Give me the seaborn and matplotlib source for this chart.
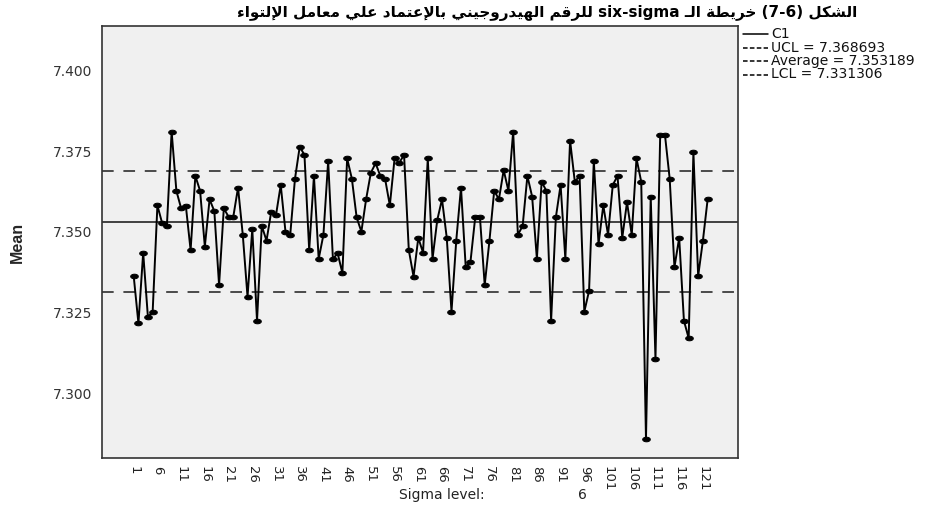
import numpy as np
import pandas as pd
import matplotlib
matplotlib.use("Agg")
import matplotlib.pyplot as plt
from matplotlib.lines import Line2D
import seaborn as sns

# ---- data -------------------------------------------------------------
sample_means = [
    7.3364, 7.3218, 7.3436, 7.3237, 7.3254, 7.3582, 7.3527, 7.3519, 7.3810, 7.3627,
    7.3573, 7.3580, 7.3444, 7.3673, 7.3627, 7.3455, 7.3601, 7.3564, 7.3336, 7.3573,
    7.3547, 7.3547, 7.3637, 7.3491, 7.3300, 7.3509, 7.3226, 7.3519, 7.3473, 7.3563,
    7.3552, 7.3645, 7.3501, 7.3491, 7.3664, 7.3763, 7.3738, 7.3444, 7.3673, 7.3417,
    7.3491, 7.3719, 7.3417, 7.3434, 7.3373, 7.3727, 7.3664, 7.3545, 7.3501, 7.3601,
    7.3683, 7.3712, 7.3673, 7.3664, 7.3582, 7.3727, 7.3714, 7.3738, 7.3444, 7.3362,
    7.3482, 7.3436, 7.3727, 7.3417, 7.3537, 7.3601, 7.3482, 7.3254, 7.3473, 7.3637,
    7.3391, 7.3408, 7.3545, 7.3545, 7.3336, 7.3473, 7.3627, 7.3601, 7.3691, 7.3627,
    7.3810, 7.3491, 7.3519, 7.3673, 7.3609, 7.3417, 7.3655, 7.3627, 7.3226, 7.3545,
    7.3645, 7.3417, 7.3782, 7.3655, 7.3673, 7.3254, 7.3318, 7.3719, 7.3463, 7.3582,
    7.3491, 7.3645, 7.3673, 7.3482, 7.3592, 7.3491, 7.3727, 7.3655, 7.2861, 7.3609,
    7.3108, 7.3800, 7.3800, 7.3664, 7.3391, 7.3482, 7.3226, 7.3172, 7.3746, 7.3364,
    7.3473, 7.3601,
]
sample_ids = list(range(1, len(sample_means) + 1))

ucl = 7.368693
center = 7.353189
lcl = 7.331306
sigma_level = 6

x_tick_values = list(range(1, 122, 5))
y_tick_values = [7.300, 7.325, 7.350, 7.375, 7.400]

title_words = ["الشكل", "(7-6)", "خريطة", "الـ", "six-sigma", "للرقم",
               "الهيدروجيني", "بالإعتماد", "علي", "معامل", "الإلتواء"]

# ---- minimal Arabic shaping (matplotlib has no bidi / joining) --------
# char: (isolated, final, initial, medial); None where the form does not exist
FORMS = {
    "\u0621": ("\uFE80", None, None, None),
    "\u0622": ("\uFE81", "\uFE82", None, None),
    "\u0623": ("\uFE83", "\uFE84", None, None),
    "\u0625": ("\uFE87", "\uFE88", None, None),
    "\u0627": ("\uFE8D", "\uFE8E", None, None),
    "\u0628": ("\uFE8F", "\uFE90", "\uFE91", "\uFE92"),
    "\u0629": ("\uFE93", "\uFE94", None, None),
    "\u062A": ("\uFE95", "\uFE96", "\uFE97", "\uFE98"),
    "\u062C": ("\uFE9D", "\uFE9E", "\uFE9F", "\uFEA0"),
    "\u062E": ("\uFEA5", "\uFEA6", "\uFEA7", "\uFEA8"),
    "\u062F": ("\uFEA9", "\uFEAA", None, None),
    "\u0631": ("\uFEAD", "\uFEAE", None, None),
    "\u0634": ("\uFEB5", "\uFEB6", "\uFEB7", "\uFEB8"),
    "\u0637": ("\uFEC1", "\uFEC2", "\uFEC3", "\uFEC4"),
    "\u0639": ("\uFEC9", "\uFECA", "\uFECB", "\uFECC"),
    "\u0642": ("\uFED5", "\uFED6", "\uFED7", "\uFED8"),
    "\u0643": ("\uFED9", "\uFEDA", "\uFEDB", "\uFEDC"),
    "\u0644": ("\uFEDD", "\uFEDE", "\uFEDF", "\uFEE0"),
    "\u0645": ("\uFEE1", "\uFEE2", "\uFEE3", "\uFEE4"),
    "\u0646": ("\uFEE5", "\uFEE6", "\uFEE7", "\uFEE8"),
    "\u0647": ("\uFEE9", "\uFEEA", "\uFEEB", "\uFEEC"),
    "\u0648": ("\uFEED", "\uFEEE", None, None),
    "\u0649": ("\uFEEF", "\uFEF0", None, None),
    "\u064A": ("\uFEF1", "\uFEF2", "\uFEF3", "\uFEF4"),
}
LAM_ALEF = {"\u0622": ("\uFEF5", "\uFEF6"), "\u0623": ("\uFEF7", "\uFEF8"),
            "\u0625": ("\uFEF9", "\uFEFA"), "\u0627": ("\uFEFB", "\uFEFC")}
TATWEEL = "\u0640"


def _is_arabic(word):
    return any(c in FORMS or c == TATWEEL for c in word)


def shape_word(word):
    tokens = []
    i = 0
    while i < len(word):
        c = word[i]
        if c == "\u0644" and i + 1 < len(word) and word[i + 1] in LAM_ALEF:
            tokens.append(("LA", word[i + 1]))
            i += 2
        else:
            tokens.append(c)
            i += 1

    def joins_forward(t):
        if t == TATWEEL:
            return True
        return isinstance(t, str) and t in FORMS and FORMS[t][2] is not None

    def joins_back(t):
        if isinstance(t, tuple):
            return True
        if t == TATWEEL:
            return True
        return t in FORMS and FORMS[t][1] is not None

    out = []
    for k, t in enumerate(tokens):
        prev_ok = k > 0 and joins_forward(tokens[k - 1]) and joins_back(t)
        next_ok = (k + 1 < len(tokens) and joins_forward(t)
                   and joins_back(tokens[k + 1]))
        if isinstance(t, tuple):
            iso, fin = LAM_ALEF[t[1]]
            out.append(fin if prev_ok else iso)
        elif t == TATWEEL or t not in FORMS:
            out.append(t)
        else:
            iso, fin, ini, med = FORMS[t]
            if prev_ok and next_ok:
                out.append(med)
            elif prev_ok:
                out.append(fin)
            elif next_ok:
                out.append(ini)
            else:
                out.append(iso)
    return "".join(reversed(out))


def rtl_line(words):
    parts = [shape_word(w) if _is_arabic(w) else w for w in words]
    return " ".join(reversed(parts))


# ---- figure -----------------------------------------------------------
sns.set_theme(style="white")
plt.rcParams["font.family"] = ["DejaVu Sans"]

W, H = 940, 515
fig = plt.figure(figsize=(W / 100, H / 100), dpi=100)
fig.patch.set_facecolor("white")
ax = fig.add_axes([102 / W, 1 - 458 / H, (738 - 102) / W, (458 - 26) / H])
ax.set_facecolor("#f0f0f0")

df = pd.DataFrame({"sample": sample_ids, "mean": sample_means})

# control limits and centre line
ax.axhline(ucl, color="#4a4a4a", lw=1.4, dashes=(6, 5), zorder=1)
ax.axhline(lcl, color="#4a4a4a", lw=1.4, dashes=(6, 5), zorder=1)
ax.axhline(center, color="#333333", lw=1.3, zorder=1)

ellipse = [(np.cos(t), 0.6 * np.sin(t)) for t in np.linspace(0, 2 * np.pi, 24)]
sns.lineplot(data=df, x="sample", y="mean", ax=ax, color="black", lw=1.4,
             marker=ellipse, markersize=5.5, markeredgecolor="black",
             markerfacecolor="black", legend=False, zorder=3)

ax.set_xlim(-5.68, 128.4)
ax.set_ylim(7.2802, 7.4136)
ax.set_xticks(x_tick_values)
ax.set_xticklabels([str(v) for v in x_tick_values], rotation=-90,
                   fontsize=9.5, color="#222222")
ax.set_yticks(y_tick_values)
ax.set_yticklabels([f"{v:.3f}" for v in y_tick_values], fontsize=10,
                   color="#333333")
ax.tick_params(axis="y", direction="out", length=6, width=1,
               color="#222222", pad=1)
ax.tick_params(axis="x", direction="out", length=5, width=1,
               color="#222222", pad=1)
ax.set_xlabel("")
ax.set_ylabel("Mean", fontsize=11.5, fontweight="bold",
              family=["Liberation Sans Narrow", "Liberation Sans", "DejaVu Sans"],
              labelpad=20)
for side, sp in ax.spines.items():
    sp.set_visible(True)
    sp.set_color("#333333")
    sp.set_linewidth(1.2)

# title
fig.text(857 / W, 1 - 13 / H, rtl_line(title_words), ha="right", va="center",
         fontsize=11, fontweight="bold", color="black",
         family=["DejaVu Sans"])

# legend, drawn row by row beside the plot
legend_rows = [
    ("C1", None),
    (f"UCL = {ucl:.6f}", (3, 1.5)),
    (f"Average = {center:.6f}", (3, 1.5)),
    (f"LCL = {lcl:.6f}", (3, 1.5)),
]
row_y = [34, 47.5, 61, 74.5]
for (label, dash), y in zip(legend_rows, row_y):
    yf = 1 - y / H
    line = Line2D([743 / W, 768 / W], [yf, yf], transform=fig.transFigure,
                  color="black", lw=1.1)
    if dash is not None:
        line.set_dashes(dash)
    fig.add_artist(line)
    fig.text(771 / W, yf, label, ha="left", va="center", fontsize=10,
             color="#111111")

# sigma level footer
fig.text(399 / W, 1 - 495 / H, "Sigma level:", ha="left", va="center",
         fontsize=10, color="#222222")
fig.text(578 / W, 1 - 495 / H, str(sigma_level), ha="left", va="center",
         fontsize=10, color="#222222")

fig.savefig("out.png", dpi=100, facecolor="white")
